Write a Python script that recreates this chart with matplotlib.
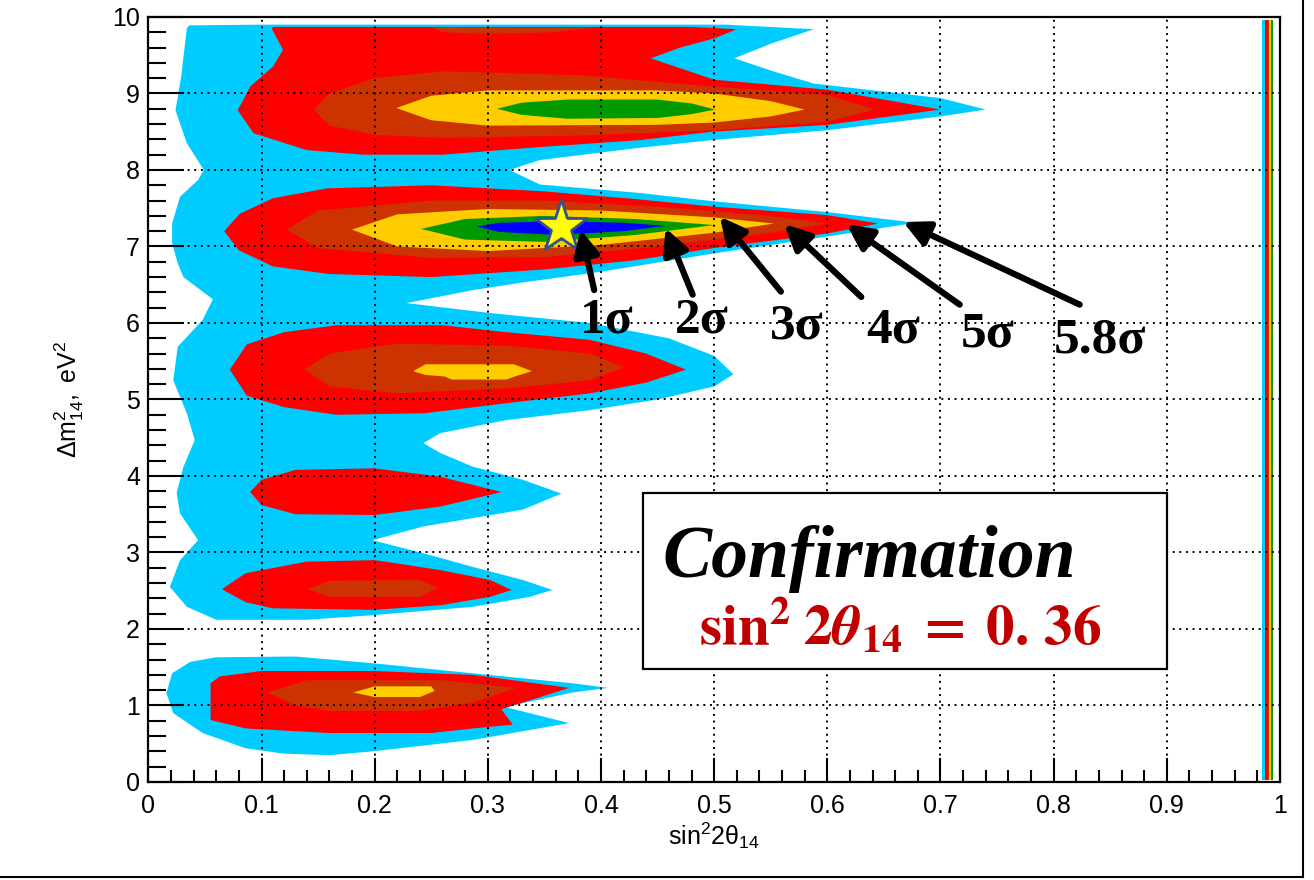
import matplotlib
matplotlib.use('Agg')
import matplotlib.pyplot as plt
from matplotlib.lines import Line2D
from matplotlib.ticker import MultipleLocator

plt.rcParams['font.family'] = ['Liberation Sans', 'DejaVu Sans']
plt.rcParams['mathtext.fontset'] = 'custom'
plt.rcParams['mathtext.rm'] = 'Liberation Sans'
plt.rcParams['mathtext.it'] = 'Liberation Sans:italic'
plt.rcParams['mathtext.bf'] = 'Liberation Sans:bold'

# confidence levels (outer to inner) and ROOT fill colours
levels = ['5.8σ', '5σ', '4σ', '3σ', '2σ', '1σ']
fill_colors = ['#00CCFF', '#FF0000', '#CC3300', '#FFCC00', '#009900', '#0000FF']

# contour outlines (sin^2 2theta, dm^2)
cyan_main_x = [0.06, 0.034, 0.019, 0.028, 0.044, 0.028, 0.025, 0.031, 0.041, 0.034, 0.022, 0.026,
               0.048, 0.057, 0.031, 0.026, 0.021, 0.021, 0.028, 0.044, 0.049, 0.034, 0.024, 0.029,
               0.034, 0.036, 0.10, 0.51, 0.588, 0.55, 0.518, 0.55, 0.588, 0.70, 0.74, 0.70, 0.60,
               0.498, 0.434, 0.346, 0.319, 0.346, 0.434, 0.50, 0.60, 0.678, 0.60, 0.50, 0.40, 0.331,
               0.287, 0.228, 0.302, 0.39, 0.46, 0.50, 0.517, 0.50, 0.45, 0.39, 0.316, 0.258, 0.243,
               0.258, 0.287, 0.331, 0.365, 0.331, 0.243, 0.198, 0.243, 0.287, 0.331, 0.357, 0.337,
               0.287, 0.198, 0.14]
cyan_main_y = [2.12, 2.29, 2.55, 2.9, 3.16, 3.51, 3.78, 4.12, 4.47, 4.82, 5.25, 5.69,
               6.04, 6.31, 6.6, 6.78, 7.04, 7.3, 7.65, 7.87, 8.0, 8.35, 8.78, 9.22,
               9.85, 9.89, 9.9, 9.9, 9.84, 9.65, 9.46, 9.3, 9.13, 8.94, 8.79, 8.70, 8.52,
               8.39, 8.29, 8.13, 8.0, 7.81, 7.7, 7.59, 7.45, 7.31, 7.13, 6.91, 6.67, 6.53,
               6.43, 6.26, 6.13, 6.0, 5.8, 5.57, 5.33, 5.17, 5.0, 4.86, 4.73, 4.56, 4.43,
               4.3, 4.12, 3.95, 3.77, 3.56, 3.34, 3.16, 2.99, 2.81, 2.64, 2.51, 2.42,
               2.29, 2.18, 2.12]
cyan_low_x = [0.037, 0.06, 0.13, 0.2, 0.287, 0.375, 0.406, 0.375, 0.315, 0.372, 0.287, 0.198,
              0.16, 0.12, 0.086, 0.048, 0.022, 0.016, 0.021]
cyan_low_y = [1.57, 1.63, 1.64, 1.55, 1.42, 1.29, 1.23, 1.17, 0.98, 0.77, 0.55, 0.40,
              0.35, 0.37, 0.44, 0.64, 0.9, 1.16, 1.42]

red_9_x = [0.19, 0.14, 0.093, 0.079, 0.09, 0.11, 0.119, 0.109, 0.11, 0.48, 0.52, 0.50, 0.47,
           0.444, 0.50, 0.60, 0.70, 0.60, 0.498, 0.434, 0.346, 0.26]
red_9_y = [8.2, 8.26, 8.48, 8.78, 9.09, 9.35, 9.57, 9.85, 9.87, 9.87, 9.84, 9.72, 9.6,
           9.46, 9.18, 9.05, 8.79, 8.59, 8.5, 8.39, 8.3, 8.2]
red_7_x = [0.067, 0.081, 0.11, 0.158, 0.25, 0.35, 0.43, 0.50, 0.60, 0.645, 0.60, 0.50, 0.43,
           0.35, 0.25, 0.16, 0.11, 0.08]
red_7_y = [7.2, 7.43, 7.63, 7.76, 7.8, 7.72, 7.62, 7.52, 7.41, 7.3, 7.17, 6.98, 6.82,
           6.7, 6.6, 6.64, 6.74, 6.95]
red_5_x = [0.072, 0.087, 0.12, 0.166, 0.26, 0.316, 0.39, 0.44, 0.475, 0.44, 0.39, 0.316,
           0.244, 0.166, 0.12, 0.087]
red_5_y = [5.39, 5.72, 5.88, 5.97, 5.97, 5.88, 5.78, 5.6, 5.39, 5.22, 5.08, 4.95,
           4.82, 4.8, 4.9, 5.05]
red_4_x = [0.09, 0.1, 0.13, 0.2, 0.258, 0.312, 0.258, 0.2, 0.13, 0.1]
red_4_y = [3.79, 3.95, 4.08, 4.1, 3.99, 3.79, 3.6, 3.49, 3.5, 3.62]
red_2_x = [0.065, 0.086, 0.14, 0.2, 0.258, 0.302, 0.321, 0.302, 0.258, 0.2, 0.11, 0.086]
red_2_y = [2.52, 2.73, 2.88, 2.9, 2.77, 2.64, 2.51, 2.42, 2.31, 2.25, 2.27, 2.35]
red_1_x = [0.055, 0.063, 0.1, 0.2, 0.287, 0.372, 0.312, 0.322, 0.287, 0.25, 0.16, 0.086, 0.055]
red_1_y = [1.29, 1.38, 1.45, 1.45, 1.40, 1.23, 0.95, 0.75, 0.70, 0.64, 0.64, 0.70, 0.81]

brown_top_x = [0.25, 0.39, 0.36, 0.30, 0.26]
brown_top_y = [9.87, 9.86, 9.8, 9.78, 9.8]
brown_9_x = [0.146, 0.16, 0.2, 0.26, 0.38, 0.5, 0.6, 0.642, 0.6, 0.5, 0.38, 0.26, 0.2, 0.16]
brown_9_y = [8.79, 9.0, 9.2, 9.29, 9.24, 9.09, 8.98, 8.79, 8.63, 8.52, 8.45, 8.42, 8.46, 8.58]
brown_7_x = [0.122, 0.15, 0.25, 0.35, 0.45, 0.55, 0.60, 0.55, 0.45, 0.35, 0.25, 0.15]
brown_7_y = [7.22, 7.47, 7.6, 7.6, 7.52, 7.4, 7.3, 7.18, 7.0, 6.86, 6.85, 6.98]
brown_5_x = [0.138, 0.16, 0.22, 0.32, 0.39, 0.42, 0.39, 0.32, 0.22, 0.16]
brown_5_y = [5.39, 5.6, 5.73, 5.7, 5.6, 5.42, 5.25, 5.15, 5.08, 5.17]
brown_2_x = [0.141, 0.16, 0.24, 0.256, 0.24, 0.16]
brown_2_y = [2.52, 2.63, 2.64, 2.54, 2.42, 2.42]
brown_1_x = [0.105, 0.14, 0.26, 0.325, 0.287, 0.24, 0.16, 0.13]
brown_1_y = [1.17, 1.33, 1.33, 1.23, 1.04, 0.93, 0.93, 1.0]

yellow_9_x = [0.219, 0.25, 0.3, 0.45, 0.5, 0.55, 0.58, 0.55, 0.5, 0.45, 0.3, 0.25]
yellow_9_y = [8.81, 8.97, 9.04, 9.04, 9.0, 8.9, 8.79, 8.7, 8.62, 8.59, 8.58, 8.65]
yellow_7_x = [0.18, 0.22, 0.3, 0.4, 0.5, 0.553, 0.5, 0.4, 0.3, 0.22]
yellow_7_y = [7.22, 7.42, 7.49, 7.47, 7.38, 7.3, 7.18, 7.02, 6.94, 7.0]
yellow_5_x = [0.234, 0.245, 0.323, 0.339, 0.326, 0.316, 0.268, 0.262, 0.245]
yellow_5_y = [5.37, 5.46, 5.46, 5.37, 5.31, 5.26, 5.26, 5.3, 5.32]
yellow_1_x = [0.181, 0.2, 0.25, 0.253, 0.24, 0.2]
yellow_1_y = [1.17, 1.25, 1.25, 1.19, 1.11, 1.11]

green_9_x = [0.308, 0.33, 0.37, 0.45, 0.48, 0.501, 0.48, 0.45, 0.37, 0.33]
green_9_y = [8.80, 8.88, 8.92, 8.92, 8.87, 8.79, 8.73, 8.68, 8.67, 8.72]
green_7_x = [0.241, 0.28, 0.35, 0.43, 0.50, 0.43, 0.35, 0.28]
green_7_y = [7.23, 7.36, 7.4, 7.36, 7.28, 7.15, 7.06, 7.09]

blue_7_x = [0.29, 0.31, 0.36, 0.42, 0.457, 0.42, 0.36, 0.31]
blue_7_y = [7.26, 7.31, 7.33, 7.31, 7.27, 7.2, 7.15, 7.19]

# thin band of all levels at sin^2 2theta ~ 1
stripe_edges = [0.9845, 0.9868, 0.9893, 0.9905, 0.9922, 0.994]
stripe_levels = [0, 1, 2, 3, 4]
stripe_span = [0.03, 9.96]

# best fit point and arrow annotations (inner to outer)
best_x, best_y = 0.365, 7.25
arrow_labels = ['1σ', '2σ', '3σ', '4σ', '5σ', '5.8σ']
arrow_tip_x = [0.382, 0.457, 0.505, 0.562, 0.617, 0.667]
arrow_tip_y = [7.22, 7.24, 7.39, 7.29, 7.29, 7.32]
arrow_tail_x = [0.394, 0.481, 0.559, 0.630, 0.717, 0.823]
arrow_tail_y = [6.43, 6.37, 6.41, 6.34, 6.24, 6.24]
label_x = [0.405, 0.489, 0.573, 0.658, 0.742, 0.841]
label_y = [5.88, 5.87, 5.80, 5.75, 5.69, 5.62]

regions = [
    (0, cyan_main_x, cyan_main_y), (0, cyan_low_x, cyan_low_y),
    (1, red_9_x, red_9_y), (1, red_7_x, red_7_y), (1, red_5_x, red_5_y),
    (1, red_4_x, red_4_y), (1, red_2_x, red_2_y), (1, red_1_x, red_1_y),
    (2, brown_top_x, brown_top_y), (2, brown_9_x, brown_9_y), (2, brown_7_x, brown_7_y),
    (2, brown_5_x, brown_5_y), (2, brown_2_x, brown_2_y), (2, brown_1_x, brown_1_y),
    (3, yellow_9_x, yellow_9_y), (3, yellow_7_x, yellow_7_y), (3, yellow_5_x, yellow_5_y),
    (3, yellow_1_x, yellow_1_y),
    (4, green_9_x, green_9_y), (4, green_7_x, green_7_y),
    (5, blue_7_x, blue_7_y),
]

fig = plt.figure(figsize=(13.14, 8.8), dpi=100)
ax = fig.add_axes([0.1129, 0.1114, 0.8612, 0.8693])

for lev, xs, ys in regions:
    ax.fill(xs, ys, color=fill_colors[lev], lw=0, zorder=1)

for i, lev in enumerate(stripe_levels):
    ax.fill_betweenx(stripe_span, stripe_edges[i], stripe_edges[i + 1],
                     color=fill_colors[lev], lw=0, zorder=1)

ax.set_xlim(0, 1)
ax.set_ylim(0, 10)
ax.xaxis.set_major_locator(MultipleLocator(0.1))
ax.xaxis.set_minor_locator(MultipleLocator(0.02))
ax.yaxis.set_major_locator(MultipleLocator(1))
ax.yaxis.set_minor_locator(MultipleLocator(0.2))
ax.set_xticks([0, 0.1, 0.2, 0.3, 0.4, 0.5, 0.6, 0.7, 0.8, 0.9, 1])
ax.set_xticklabels(['0', '0.1', '0.2', '0.3', '0.4', '0.5', '0.6', '0.7', '0.8', '0.9', '1'])
ax.set_axisbelow(False)
ax.grid(True, which='major', color='black', lw=1.4, ls=(0, (1, 2.4)))
ax.tick_params(which='both', direction='in', width=1.5, labelsize=18, top=False, right=False)
ax.tick_params(axis='y', which='major', length=26, pad=6)
ax.tick_params(axis='y', which='minor', length=13)
ax.tick_params(axis='x', which='major', length=17, pad=9)
ax.tick_params(axis='x', which='minor', length=9)
for sp in ax.spines.values():
    sp.set_linewidth(1.6)

ax.set_xlabel(r'$\mathrm{sin}^{2}2\mathrm{\theta}_{14}$', fontsize=18)
ax.xaxis.set_label_coords(0.5, -0.05)
ax.set_ylabel(r'$\Delta\mathrm{m}^{2}_{14}\mathrm{,\ eV}^{2}$', fontsize=18)
ax.yaxis.set_label_coords(-0.055, 0.5)

ax.plot(best_x, best_y, marker='*', ms=40, mfc='#FFFF00', mec='#34508F', mew=2, zorder=5)

for i in range(len(arrow_labels)):
    ax.annotate('', xy=(arrow_tip_x[i], arrow_tip_y[i]),
                xytext=(arrow_tail_x[i], arrow_tail_y[i]),
                arrowprops=dict(arrowstyle='-|>', color='black', lw=4.5,
                                mutation_scale=38, shrinkA=0, shrinkB=0), zorder=6)
    ax.text(label_x[i], label_y[i], arrow_labels[i], fontsize=37, fontweight='bold',
            family='Liberation Serif', ha='center', va='baseline', zorder=6)

box = plt.Rectangle((0.437, 1.48), 0.463, 2.30, facecolor='white', edgecolor='black',
                    lw=1.6, zorder=4)
ax.add_patch(box)
ax.text(0.637, 2.68, 'Confirmation', fontsize=53, fontweight='bold', fontstyle='italic',
        family='Liberation Serif', ha='center', va='baseline', zorder=5)
ax.text(0.664, 1.79,
        r'$\mathbf{sin}^{\mathbf{2}}\;\mathbf{2}\boldsymbol{\theta}_{\mathbf{14}}\;\mathbf{=}\;\mathbf{0.\,36}$',
        math_fontfamily='stix', fontsize=41, color='#C00000', ha='center', va='baseline', zorder=5)

# slide border lines
fig.add_artist(Line2D([0, 1302.5 / 1314], [1 - 877 / 880, 1 - 877 / 880],
                      transform=fig.transFigure, color='black', lw=1.5))
fig.add_artist(Line2D([1302.5 / 1314, 1302.5 / 1314], [1 - 877 / 880, 1],
                      transform=fig.transFigure, color='black', lw=1.5))

fig.savefig('out.png', dpi=100)
